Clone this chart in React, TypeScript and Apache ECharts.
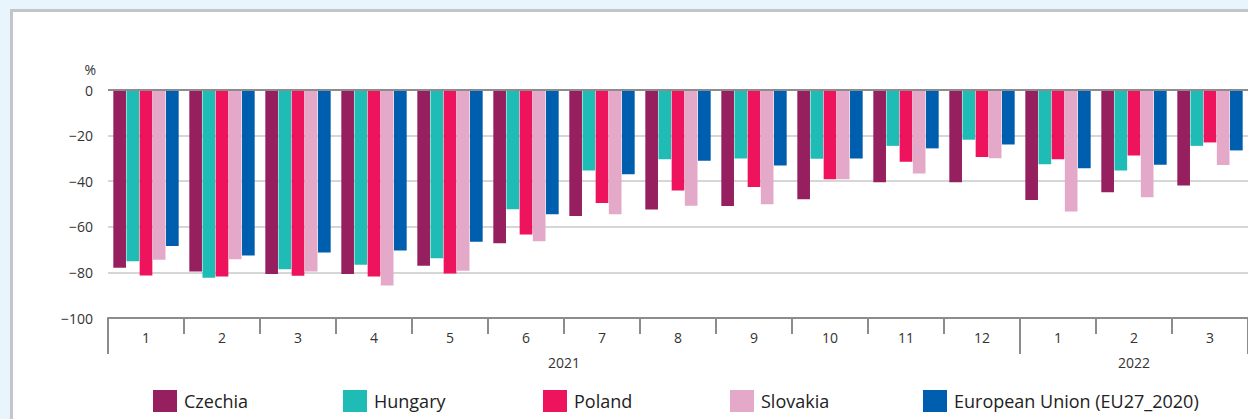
import React, { useEffect, useRef } from "react";
import * as echarts from "echarts";

const months = ["1", "2", "3", "4", "5", "6", "7", "8", "9", "10", "11", "12", "1", "2", "3"];
const years = ["2021", "2022"];
const yearCentres = [6, 13.5];
const yearBounds = [0, 12, 15];
const yTicks = [-100, -80, -60, -40, -20, 0];

const seriesNames = ["Czechia", "Hungary", "Poland", "Slovakia", "European Union (EU27_2020)"];
const czechia = [-78.0, -79.6, -80.7, -80.7, -77.1, -67.2, -55.3, -52.4, -50.9, -47.9, -40.5, -40.5, -48.3, -44.8, -41.9];
const hungary = [-75.1, -82.3, -78.6, -76.6, -73.8, -52.3, -35.3, -30.4, -30.0, -30.2, -24.5, -21.8, -32.6, -35.3, -24.5];
const poland = [-81.4, -81.8, -81.5, -81.8, -80.5, -63.4, -49.6, -44.1, -42.5, -39.1, -31.5, -29.4, -30.4, -28.7, -23.0];
const slovakia = [-74.4, -74.2, -79.6, -85.8, -79.3, -66.3, -54.5, -50.8, -50.1, -39.1, -36.6, -29.9, -53.3, -47.0, -32.9];
const eu = [-68.4, -72.6, -71.3, -70.4, -66.6, -54.5, -37.0, -31.0, -33.1, -30.0, -25.6, -23.9, -34.3, -32.8, -26.5];

const colors = ["#96205f", "#1ebcb5", "#ed135c", "#e4a9c9", "#005eaf"];
const legendLefts = [153, 343, 543, 730, 923];

const tickFont = "'Liberation Sans Narrow', 'Open Sans', sans-serif";
const legendFont = "'Open Sans', 'Liberation Sans', sans-serif";

export default function App() {
  const ref = useRef<HTMLDivElement>(null);
  useEffect(() => {
    if (!ref.current) return;
    const chart = echarts.init(ref.current, undefined, { renderer: "svg" });
    const allData = [czechia, hungary, poland, slovakia, eu];
    const series: any[] = seriesNames.map((name, i) => ({
      name,
      type: "bar",
      data: allData[i],
      itemStyle: { color: colors[i] },
      barGap: "4%",
      barCategoryGap: "14%",
      xAxisIndex: 0,
      yAxisIndex: 0,
    }));
    series[4].markLine = {
      silent: true,
      symbol: "none",
      label: { show: false },
      lineStyle: { color: "#8c8c8c", width: 2, type: "solid" },
      data: [{ yAxis: 0 }],
    };
    chart.setOption({
      animation: false,
      grid: { left: 108, right: -3, top: 90, bottom: 101 },
      legend: seriesNames.map((name, i) => ({
        data: [name],
        left: legendLefts[i],
        top: 390,
        padding: 0,
        icon: "rect",
        itemWidth: 24,
        itemHeight: 22,
        itemGap: 0,
        selectedMode: false,
        textStyle: { fontFamily: legendFont, fontSize: 18, color: "#222", padding: [0, 0, 0, 2] },
      })),
      xAxis: [
        {
          type: "category",
          data: months,
          position: "bottom",
          axisLine: { show: true, onZero: false, lineStyle: { color: "#8c8c8c", width: 2 } },
          axisTick: { show: true, length: 16, lineStyle: { color: "#8c8c8c", width: 2 } },
          axisLabel: { fontFamily: tickFont, fontSize: 14, color: "#333", margin: 12 },
          splitLine: { show: false },
        },
        {
          type: "value",
          min: 0,
          max: 15,
          position: "bottom",
          axisLine: { show: false, onZero: false },
          axisTick: { show: true, customValues: yearBounds, length: 36, lineStyle: { color: "#8c8c8c", width: 2 } },
          axisLabel: {
            show: true,
            customValues: yearCentres,
            fontFamily: tickFont,
            fontSize: 14,
            color: "#333",
            margin: 37,
            formatter: (v: number) => {
              const idx = yearCentres.indexOf(v);
              return idx >= 0 ? years[idx] : "";
            },
          },
          splitLine: { show: false },
        },
      ],
      yAxis: {
        type: "value",
        min: yTicks[0],
        max: yTicks[yTicks.length - 1],
        interval: 20,
        name: "%",
        nameLocation: "end",
        nameGap: 14,
        nameTextStyle: { fontFamily: tickFont, fontSize: 14, color: "#333", align: "right", padding: [0, 12, 0, 0] },
        axisLine: { show: false },
        axisTick: { show: false },
        axisLabel: {
          fontFamily: tickFont,
          fontSize: 14,
          color: "#333",
          margin: 15,
          formatter: (v: number) => (v === 0 ? "0" : "\u2212" + Math.abs(v)),
        },
        splitLine: { show: true, lineStyle: { color: "#c8c8c8", width: 1.5 } },
      },
      series,
    });
    return () => chart.dispose();
  }, []);

  return (
    <div
      style={{
        position: "fixed",
        left: 0,
        top: 0,
        width: 1248,
        height: 419,
        overflow: "hidden",
        background: "#e8f5fc",
      }}
    >
      <div
        style={{
          position: "absolute",
          left: 10,
          top: 9,
          width: 1300,
          height: 500,
          background: "#ffffff",
          borderLeft: "3px solid #c3c5c9",
          borderTop: "3px solid #c3c5c9",
        }}
      />
      <div ref={ref} style={{ position: "absolute", left: 0, top: 0, width: 1248, height: 419 }} />
    </div>
  );
}
